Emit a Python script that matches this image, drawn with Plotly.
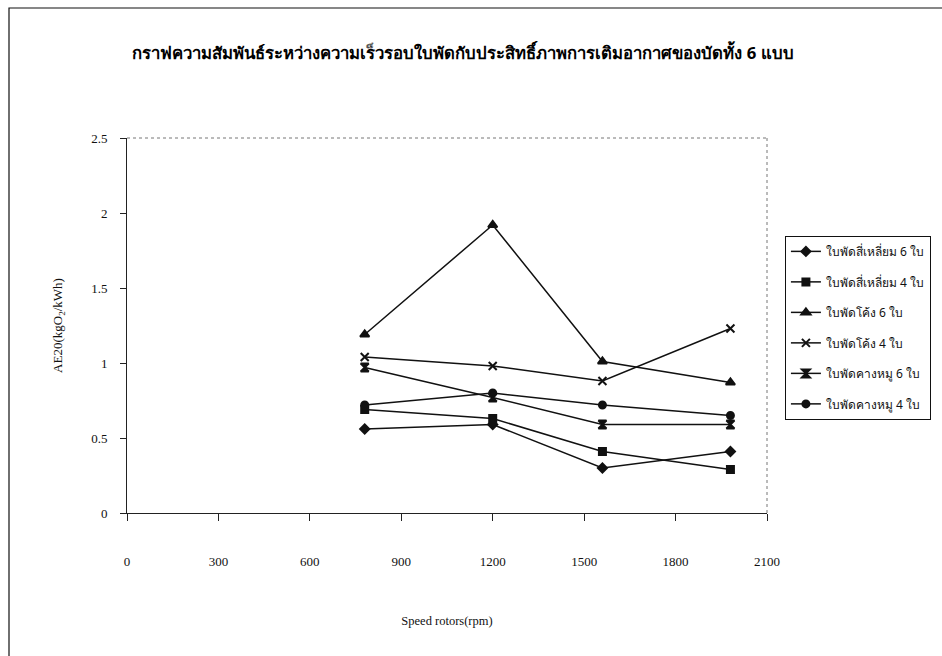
import plotly.graph_objects as go

speed_rpm = [780, 1200, 1560, 1980]

series_names = [
    "ใบพัดสี่เหลี่ยม 6 ใบ",
    "ใบพัดสี่เหลี่ยม 4 ใบ",
    "ใบพัดโค้ง 6 ใบ",
    "ใบพัดโค้ง 4 ใบ",
    "ใบพัดคางหมู 6 ใบ",
    "ใบพัดคางหมู 4 ใบ",
]
square6 = [0.56, 0.59, 0.30, 0.41]
square4 = [0.69, 0.63, 0.41, 0.29]
curve6 = [1.19, 1.92, 1.01, 0.87]
curve4 = [1.04, 0.98, 0.88, 1.23]
trap6 = [0.97, 0.77, 0.59, 0.59]
trap4 = [0.72, 0.80, 0.72, 0.65]
series_values = [square6, square4, curve6, curve4, trap6, trap4]

x_ticks = [0, 300, 600, 900, 1200, 1500, 1800, 2100]
y_ticks = [0, 0.5, 1, 1.5, 2, 2.5]
y_tick_text = ["0", "0.5", "1", "1.5", "2", "2.5"]

symbols = ["diamond", "square", "triangle-up", "x-thin-open", "hourglass", "circle"]
sizes = [7, 7, 8, 8, 8, 7]

fig = go.Figure()
for name, vals, sym, sz in zip(series_names, series_values, symbols, sizes):
    fig.add_trace(go.Scatter(
        x=speed_rpm, y=vals, name=name, legendgroup=name,
        mode="lines+markers",
        line=dict(color="#111111", width=1.5),
        marker=dict(symbol=sym, size=sz, color="#111111",
                    line=dict(color="#111111", width=2)),
    ))

L, R, T, B = 127, 175, 138, 143

fig.update_layout(
    width=942, height=656,
    margin=dict(l=L, r=R, t=T, b=B, autoexpand=False),
    paper_bgcolor="white", plot_bgcolor="white",
    font=dict(family="Liberation Serif, serif", color="#111111", size=12),
    title=dict(
        text="<b>กราฟความสัมพันธ์ระหว่างความเร็วรอบใบพัดกับประสิทธิ์ภาพการเติมอากาศของบัดทั้ง 6 แบบ</b>",
        x=0.4915, xanchor="center", y=1 - 53 / 656, yanchor="middle",
        font=dict(size=16.7, family="Noto Sans, Liberation Serif, serif", color="#000000"),
    ),
    xaxis=dict(
        range=[0, 2100], tickvals=x_ticks, ticktext=[str(v) for v in x_ticks],
        showgrid=False, zeroline=False, showline=True, linecolor="#222222", linewidth=1,
        ticks="outside", ticklen=7, tickcolor="#222222", ticklabelstandoff=29,
        automargin=False,
        tickfont=dict(size=13, family="Liberation Serif, serif"),
        title=dict(text="Speed rotors(rpm)", standoff=48,
                   font=dict(size=12.5, family="Liberation Serif, serif")),
    ),
    yaxis=dict(
        range=[0, 2.5], tickvals=y_ticks, ticktext=y_tick_text,
        showgrid=False, zeroline=False, showline=True, linecolor="#222222", linewidth=1,
        ticks="outside", ticklen=6, tickcolor="#222222", ticklabelstandoff=10,
        automargin=False,
        tickfont=dict(size=13, family="Liberation Serif, serif"),
        title=dict(text="AE20(kgO<sub>2</sub>/kWh)", standoff=25,
                   font=dict(size=13, family="Liberation Serif, serif")),
    ),
    legend=dict(
        x=1.028, y=0.739, xanchor="left", yanchor="top",
        bordercolor="#111111", borderwidth=1, bgcolor="white",
        font=dict(size=12, family="Noto Sans, Liberation Serif, serif", color="#111111"),
        traceorder="grouped", tracegroupgap=11.5, itemwidth=30,
    ),
    showlegend=True,
)

# dotted frame on top and right of plot area
fig.add_shape(type="line", xref="paper", yref="paper", x0=0, x1=1, y0=1, y1=1,
              line=dict(color="#777777", width=1, dash="dot"))
fig.add_shape(type="line", xref="paper", yref="paper", x0=1, x1=1, y0=0, y1=1,
              line=dict(color="#777777", width=1, dash="dot"))

# outer chart border (right and bottom edges fall outside the picture)
pw, ph = 942 - L - R, 656 - T - B
fig.add_shape(type="rect", xref="paper", yref="paper",
              x0=(9 - L) / pw, x1=(960 - L) / pw,
              y0=(ph + T - 680) / ph, y1=(ph + T - 8) / ph,
              line=dict(color="#111111", width=1.2), fillcolor="rgba(0,0,0,0)", layer="below")

fig.write_html("out.html", config={"displayModeBar": False},
               post_script="document.body.style.margin='0';")
